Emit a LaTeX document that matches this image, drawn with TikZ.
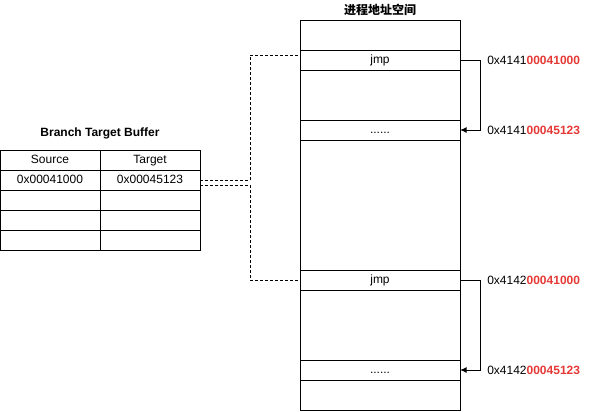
\documentclass[tikz,border=0pt]{standalone}
\usepackage{fontspec}
\setmainfont{Liberation Sans}
\newfontfamily\cjk{Noto Sans CJK SC}
\usetikzlibrary{arrows.meta}
\definecolor{addrred}{RGB}{229,57,53}
\begin{document}
\begin{tikzpicture}[x=0.75pt, y=-0.75pt, font=\fontsize{9}{11}\selectfont,
	cell/.style={draw, line width=0.75pt, inner sep=0pt, outer sep=0pt, minimum width=75pt, minimum height=15pt, text height=6.5pt, text depth=2pt},
	seg/.style={draw, line width=0.75pt, inner sep=0pt, outer sep=0pt, minimum width=120pt, text height=6.5pt, text depth=2pt},
	link/.style={line width=0.75pt, dash pattern=on 2.25pt off 1.5pt},
	jump/.style={line width=0.75pt, -{Latex[length=5pt,width=4.5pt]}},
	addr/.style={anchor=west, inner sep=0pt}]
	\useasboundingbox (0,0) rectangle (606,411);
	%titles
	\node[font=\fontsize{9}{11}\selectfont\bfseries] (btbtitle) at (100,133) {Branch Target Buffer};
	\node[font=\fontsize{9}{11}\selectfont\cjk\bfseries] (memtitle) at (380,10) {进程地址空间};
	%table
	\node[cell] (src0) at (50,160) {Source};
	\node[cell] (tgt0) at (150,160) {Target};
	\node[cell] (src1) at (50,180) {0x00041000};
	\node[cell] (tgt1) at (150,180) {0x00045123};
	\foreach \r in {2,3,4}
	{
		\node[cell] (src\r) at (50,{160+20*\r}) {};
		\node[cell] (tgt\r) at (150,{160+20*\r}) {};
	}
	%address space
	\node[seg, minimum height=22.5pt] (mem1) at (380,35) {};
	\node[seg, minimum height=15pt] (jmpA) at (380,60) {jmp};
	\node[seg, minimum height=37.5pt] (mem3) at (380,95) {};
	\node[seg, minimum height=15pt] (dotsA) at (380,130) {......};
	\node[seg, minimum height=97.5pt] (mem5) at (380,205) {};
	\node[seg, minimum height=15pt] (jmpB) at (380,280) {jmp};
	\node[seg, minimum height=52.5pt] (mem7) at (380,325) {};
	\node[seg, minimum height=15pt] (dotsB) at (380,370) {......};
	\node[seg, minimum height=22.5pt] (mem9) at (380,395) {};
	%addresses
	\node[addr] (srcA) at (487,60) {0x4141\textcolor{addrred}{\bfseries 00041000}};
	\node[addr] (tgtA) at (487,130) {0x4141\textcolor{addrred}{\bfseries 00045123}};
	\node[addr] (srcB) at (487,280) {0x4142\textcolor{addrred}{\bfseries 00041000}};
	\node[addr] (tgtB) at (487,370) {0x4142\textcolor{addrred}{\bfseries 00045123}};
	%jumps
	\draw[jump] (jmpA.east) -- ++(20,0) |- (dotsA.east);
	\draw[jump] (jmpB.east) -- ++(20,0) |- (dotsB.east);
	%links
	\draw[link] (tgt1.east) -| ([xshift=-37.5pt,yshift=3.75pt]jmpA.west) -- ([yshift=3.75pt]jmpA.west);
	\draw[link] ([yshift=-3.75pt]tgt1.east) -| ([xshift=-37.5pt]jmpB.west) -- (jmpB.west);
\end{tikzpicture}
\end{document}
